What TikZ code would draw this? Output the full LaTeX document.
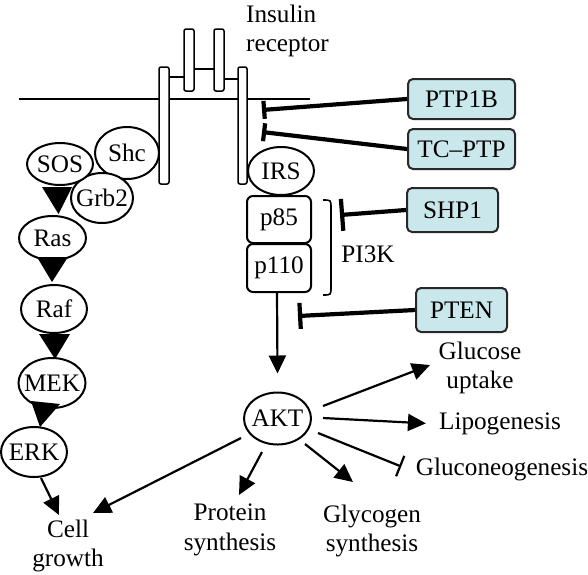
\documentclass[tikz,border=0pt]{standalone}
\usepackage{fontspec}
\setmainfont{Liberation Serif}
\usetikzlibrary{shapes.geometric,arrows.meta,calc}
\definecolor{boxfill}{RGB}{202,231,236}
\definecolor{boxline}{RGB}{40,40,40}
\newcommand\ctext[1]{\makebox[0pt]{#1}}
\begin{document}
\begin{tikzpicture}[x=1pt,y=-1pt,
  every node/.style={font=\fontsize{25.2}{29.5}\selectfont},
  ell/.style={ellipse,draw,line width=2pt,fill=white,inner sep=0pt},
  sub/.style={rectangle,rounded corners=6pt,draw,line width=2pt,fill=white,inner sep=0pt,minimum width=64pt},
  ptp/.style={rectangle,rounded corners=5pt,draw=boxline,line width=2pt,fill=boxfill,inner sep=0pt},
  lbl/.style={align=center,inner sep=0pt},
  arr/.style={-{Triangle[length=18pt,width=17pt]},line width=2.2pt},
  inh/.style={-{Bar[width=#1]},line width=4.2pt},
  inhthin/.style={-{Bar[width=22pt]},line width=2.2pt},
  rec/.style={draw,fill=white,line width=1.5pt,rounded corners=2pt},
  memb/.style={line width=1.5pt},
]
\useasboundingbox (0,0) rectangle (588,574);
% membrane and receptor
\draw[memb] (19,99) -- (310,99);
\draw[memb] (169,77)--(184,77) (194,69)--(214,69) (224,79)--(238,79);
\draw[rec] (159,67) rectangle (169,184);
\draw[rec] (238,67) rectangle (247,184);
\draw[rec] (184,29) rectangle (194,91);
\draw[rec] (214,29) rectangle (224,91);
\node[lbl,align=left,anchor=west] (ins) at (246,31) {Insulin\\receptor};
% MAPK branch
\node[ell,minimum width=64pt,minimum height=52pt] (shc) at (127,153) {\ctext{Shc}};
\node[ell,minimum width=62pt,minimum height=50pt] (grb2) at (102,198) {\ctext{Grb2}};
\node[ell,minimum width=66pt,minimum height=42pt] (sos) at (60,164) {\ctext{SOS}};
\node[ell,minimum width=67pt,minimum height=44pt] (ras) at (52.5,238) {\ctext{Ras}};
\node[ell,minimum width=66pt,minimum height=48pt] (raf) at (54,309) {\ctext{Raf}};
\node[ell,minimum width=67pt,minimum height=50pt] (mek) at (52,383) {\ctext{MEK}};
\node[ell,minimum width=66pt,minimum height=50pt] (erk) at (34,452) {\ctext{ERK}};
\fill ($(sos.south)+(-18,1)$) -- ($(sos.south)+(12,1)$) -- ($(ras.north)+(6,-1)$) -- cycle;
\fill ($(ras.south)+(-15.5,-4)$) -- ($(ras.south)+(15.5,-4)$) -- ($(raf.north)+(-2,-2)$) -- cycle;
\fill ($(raf.south)+(-15,0)$) -- ($(raf.south)+(16,0)$) -- ($(mek.north)+(3,2)$) -- cycle;
\fill ($(mek.south)+(-21,-8)$) -- ($(mek.south)+(8,-5)$) -- ($(erk.north)+(6,1)$) -- cycle;
% PI3K branch
\node[ell,minimum width=66pt,minimum height=48pt] (irs) at (281,171) {\ctext{IRS}};
\node[sub,minimum height=47pt] (p85) at (279,219.5) {p85};
\node[sub,minimum height=48pt] (p110) at (279,268) {p110};
\draw[line width=1.6pt] (323,200) .. controls (331,200) .. (331,208) -- (331,287) .. controls (331,295) .. (323,295);
\node[inner sep=0pt,anchor=base] (pi3k) at (368,262) {PI3K};
\node[ell,minimum width=67pt,minimum height=52pt] (akt) at (277.5,418.5) {\ctext{AKT}};
% phosphatases
\node[ptp,minimum width=107pt,minimum height=40pt] (ptp1b) at (461.5,99) {PTP1B};
\node[ptp,minimum width=107pt,minimum height=40pt] (tcptp) at (461.5,149) {TC--PTP};
\node[ptp,minimum width=91pt,minimum height=44pt] (shp1) at (452.5,210) {SHP1};
\node[ptp,minimum width=91pt,minimum height=44pt] (pten) at (461.5,310) {PTEN};
\coordinate (r1) at (262,110);
\coordinate (r2) at (262,132);
\coordinate (b1) at (340,215);
\coordinate (b2) at (298,316);
\draw[inh=18pt] (ptp1b.west) -- (r1);
\draw[inh=18pt] (tcptp.west) -- (r2);
\draw[inh=32pt] (shp1.west) -- (b1);
\draw[inh=26pt] (pten.west) -- (b2);
% outputs
\node[lbl] (gluc) at (480,368) {Glucose\\uptake};
\node[inner sep=0pt,anchor=base] (lipo) at (500,429) {Lipogenesis};
\node[inner sep=0pt,anchor=base] (glucon) at (502,475) {Gluconeogenesis};
\node[lbl] (glyc) at (372,531) {Glycogen\\synthesis};
\node[lbl] (prot) at (230,530) {Protein\\synthesis};
\node[lbl] (cell) at (68,546) {Cell\\growth};
\draw[arr] ($(p110.south)+(-2,0)$) -- ($(akt.north)+(0,-18)$);
\draw[arr] ($(akt)+(45.5,-12.5)$) -- ($(gluc)+(-50,-3)$);
\draw[arr] ($(akt)+(45.5,-0.5)$) -- ($(lipo.west)+(-13,0)$);
\draw[inhthin] ($(akt)+(40.5,14.5)$) -- ($(glucon.west)+(-14.5,-2.5)$);
\draw[arr] ($(akt)+(27.5,25.5)$) -- ($(glyc)+(-19,-49)$);
\draw[arr] ($(akt)+(-15.5,33.5)$) -- ($(prot)+(9,-35)$);
\draw[arr] ($(akt)+(-36.5,19.5)$) -- ($(cell)+(25,-33)$);
\draw[arr] ($(erk.south)+(7,0)$) -- ($(cell)+(-9,-31)$);
\end{tikzpicture}
\end{document}
